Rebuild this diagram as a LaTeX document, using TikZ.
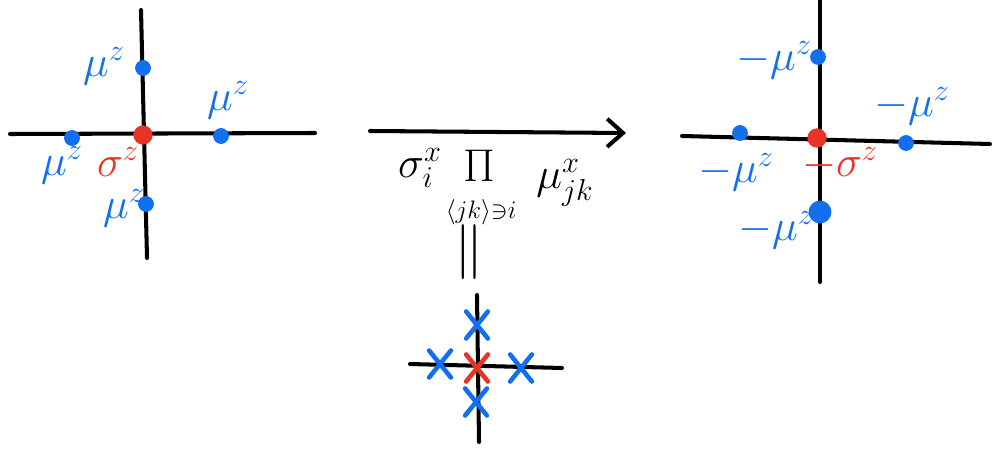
\documentclass[tikz,border=0pt]{standalone}
\usepackage{graphicx}
\usepackage{amsmath,amssymb}
\usetikzlibrary{arrows.meta}
\definecolor{hblue}{RGB}{18,112,238}
\definecolor{hred}{RGB}{232,52,38}
\tikzset{
  axis/.style={line width=2.3pt, line cap=round, black},
  bdot/.style={circle, fill=hblue, inner sep=0pt, minimum size=9pt},
  rdot/.style={circle, fill=hred, inner sep=0pt, minimum size=11pt},
  blab/.style={text=hblue, font=\fontsize{24}{26}\selectfont, inner sep=1pt},
  rlab/.style={text=hred, font=\fontsize{24}{26}\selectfont, inner sep=1pt},
  mlab/.style={text=black, font=\fontsize{24}{26}\selectfont, inner sep=1pt},
  xmark/.style={line width=2.6pt, line cap=round},
  xbox/.style={inner sep=0pt, minimum width=12pt, minimum height=15pt},
}
\begin{document}
\begin{tikzpicture}[x=0.02cm, y=-0.02cm]
\useasboundingbox (0,0) rectangle (1000,449);

% ---------- left lattice ----------
\coordinate (L1) at (141,10);
\coordinate (L2) at (147,258);
\coordinate (L3) at (10,134);
\coordinate (L4) at (315,133);
\draw[axis] (L1) -- (L2);
\draw[axis] (L3) -- (L4);
\node[rdot] (lc) at (143,135) {};
\node[bdot] (lt) at (143,68) {};
\node[bdot] (ll) at (72,138) {};
\node[bdot] (lr) at (221,136) {};
\node[bdot] (lb) at (146,204) {};
\node[blab] (llt) at (104,66) {$\mu^z$};
\node[blab] (llr) at (228,100) {$\mu^z$};
\node[blab] (lll) at (62,165) {$\mu^z$};
\node[rlab] (llc) at (118,162) {$\sigma^z$};
\node[blab] (llb) at (124,208) {$\mu^z$};

% ---------- arrow with operator ----------
\coordinate (A1) at (370,131);
\coordinate (A2) at (626,133);
\draw[axis, -{Straight Barb[length=9pt,width=16pt,line width=2.3pt]}] (A1) -- (A2);
\node[mlab] (sig) at (420,168) {$\sigma_i^x$};
\node[mlab] (prod) at (479,166) {\scalebox{1.05}{$\Pi$}};
\node[mlab, font=\fontsize{14}{16}\selectfont] (sub) at (481,212) {$\langle jk\rangle{\ni}i$};
\node[mlab] (mu) at (565,183) {$\mu_{jk}^x$};
\node[mlab, rotate=90] (eq) at (474,252) {\scalebox{2}[1.5]{$=$}};

% ---------- bottom lattice ----------
\coordinate (B1) at (477,295);
\coordinate (B2) at (479,442);
\coordinate (B3) at (410,364);
\coordinate (B4) at (562,368);
\draw[axis] (B1) -- (B2);
\draw[axis] (B3) -- (B4);
\foreach \n/\x/\y in {bt/477/325, bl/440/364, br/521/368, bb/476/402}{
  \node[xbox] (\n) at (\x,\y) {};
  \draw[xmark, hblue] (\n.north west) -- (\n.south east) (\n.north east) -- (\n.south west);
}
\node[xbox] (bc) at (477,368) {};
\draw[xmark, hred] (bc.north west) -- (bc.south east) (bc.north east) -- (bc.south west);

% ---------- right lattice ----------
\coordinate (R1) at (820,0);
\coordinate (R2) at (820,282);
\coordinate (R3) at (682,136);
\coordinate (R4) at (990,144);
\draw[axis] (R1) -- (R2);
\draw[axis] (R3) -- (R4);
\node[rdot] (rc) at (817,138) {};
\node[bdot] (rt) at (818,57) {};
\node[bdot] (rl) at (740,133) {};
\node[bdot] (rr) at (906,143) {};
\node[bdot, minimum size=13pt] (rb) at (820,212) {};
\node[blab] (rlt) at (774,60) {$-\mu^z$};
\node[blab] (rlr) at (912,106) {$-\mu^z$};
\node[blab] (rll) at (736,172) {$-\mu^z$};
\node[rlab] (rlc) at (840,164) {$-\sigma^z$};
\node[blab] (rlb) at (776,230) {$-\mu^z$};
\end{tikzpicture}
\end{document}
